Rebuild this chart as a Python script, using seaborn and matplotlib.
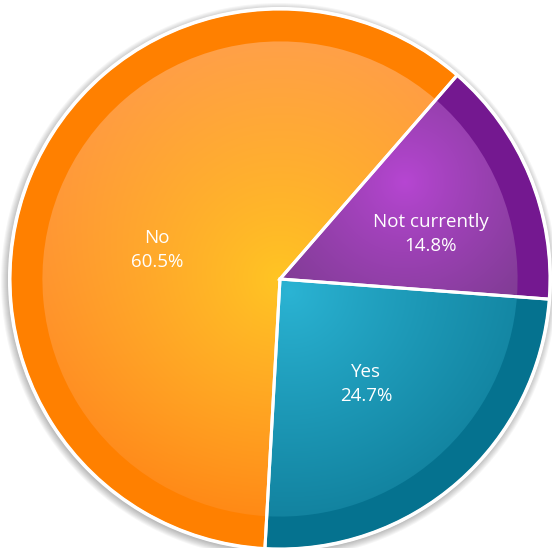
import numpy as np
import matplotlib
matplotlib.use("Agg")
import matplotlib.pyplot as plt
from matplotlib.patches import Wedge, Circle
from matplotlib.colors import to_rgb
import seaborn as sns

# Survey answers, drawn clockwise from the upper right
labels = ["Not currently", "Yes", "No"]
shares = [14.8, 24.7, 60.5]

sns.set_theme(style="white")
plt.rcParams["font.family"] = ["Open Sans", "DejaVu Sans"]

W, H = 552, 548
CX, CY = 280, 279            # pie centre in pixel coordinates (from top-left)
R = 270                      # outer radius
R_IN = 0.88 * R              # radius of the lighter inner disc

ring_colors = ["#741890", "#05728f", "#ff8000"]

# radial highlight for the inner disc of each slice:
# (highlight x, highlight y, reach, light colour, dark colour top, dark colour bottom)
shading = [
    (405, 182, 175, "#b746d3", "#7e3c93", "#7a3a8c"),
    (290, 292, 290, "#2bb4d4", "#1286a2", "#0c7692"),
    (280, 279, 238, "#ffc623", "#ffa24c", "#ff8812"),
]

label_xy = [(431, 234), (366, 384), (157, 250)]

fig = plt.figure(figsize=(W / 100, H / 100), dpi=100)
ax = fig.add_axes([0, 0, 1, 1])

center = (CX, H - CY)

# soft drop shadow behind the disc
for k in range(1, 9):
    ax.add_patch(Circle((CX - 1, H - CY - 2), R + k, color="black",
                        alpha=0.035, lw=0, zorder=0))

wedges, _ = ax.pie(shares, colors=ring_colors, startangle=49,
                   counterclock=False, radius=R, center=center,
                   wedgeprops=dict(edgecolor="none", linewidth=0))
for w in wedges:
    w.set_zorder(1)

yy, xx = np.mgrid[0:H, 0:W] + 0.5
for w, (hx, hy, reach, light, dtop, dbot) in zip(wedges, shading):
    d = np.hypot(xx - hx, yy - hy)
    t = np.clip(d / reach, 0, 1) ** 0.85
    v = np.clip((yy - (CY - R)) / (2 * R), 0, 1)
    c0 = np.array(to_rgb(light))
    ct = np.array(to_rgb(dtop))
    cb = np.array(to_rgb(dbot))
    edge = ct * (1 - v[..., None]) + cb * v[..., None]
    img = c0 * (1 - t[..., None]) + edge * t[..., None]
    inner = Wedge(center, R_IN, w.theta1, w.theta2, transform=ax.transData)
    im = ax.imshow(img, extent=(0, W, 0, H), origin="upper", zorder=2,
                   interpolation="bilinear")
    im.set_clip_path(inner)

# white separators and rim
for w in wedges:
    ax.add_patch(Wedge(center, R, w.theta1, w.theta2, fill=False,
                       edgecolor="white", linewidth=2.2, zorder=3))
ax.add_patch(Circle(center, R + 0.5, fill=False, edgecolor="white",
                    linewidth=2.2, zorder=4))

for (lx, ly), name, val in zip(label_xy, labels, shares):
    ax.text(lx, H - ly, f"{name}\n{val:.1f}%", color="white", fontsize=13.5,
            ha="center", va="center", linespacing=1.45, zorder=5)

ax.set_xlim(0, W)
ax.set_ylim(0, H)
ax.set_aspect("auto")
ax.axis("off")
fig.savefig("out.png", dpi=100, facecolor="white")
